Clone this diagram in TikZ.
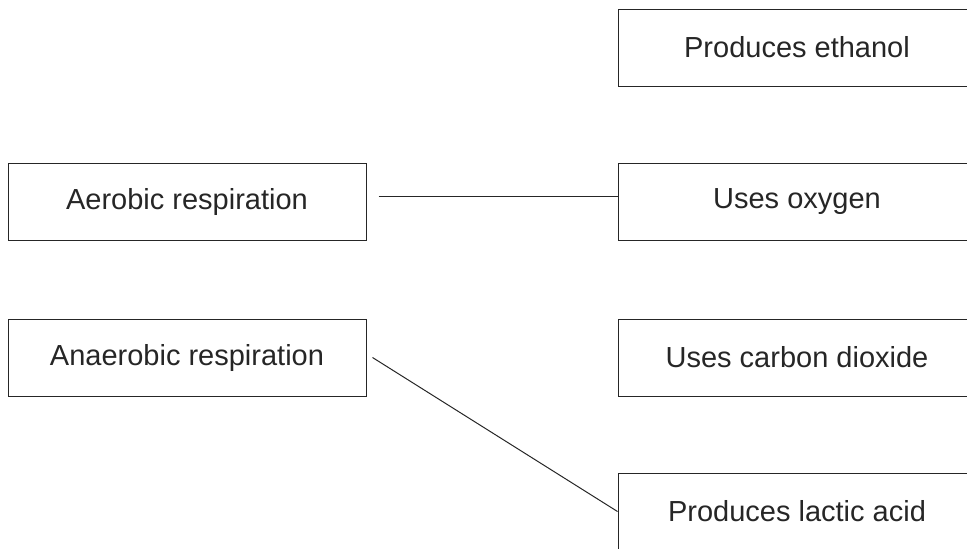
\documentclass[tikz,border=0pt]{standalone}
\usepackage{fontspec}
\setmainfont{Liberation Sans}
\usetikzlibrary{positioning}

\begin{document}
\begin{tikzpicture}[
  x=1pt, y=-1pt,
  procbox/.style={draw=black!85, line width=1pt, align=center, minimum width=358pt, minimum height=77pt, inner sep=0pt, text=black!85, font=\fontsize{29}{34}\selectfont},
  link/.style={draw=black!85, line width=1pt}
]
\clip (0,0) rectangle (967,549);
\useasboundingbox (0,0) rectangle (967,549);

\node[procbox] (aer) at (187,202) {Aerobic respiration};
\node[procbox] (ana) at (187,357.5) {Anaerobic respiration};

\node[procbox] (eth) at (797,47.5) {Produces ethanol};
\node[procbox] (oxy) at (797,202) {Uses oxygen};
\node[procbox] (co2) at (797,357.5) {Uses carbon dioxide};
\node[procbox] (lac) at (797,511.5) {Produces lactic acid};

\draw[link] ([xshift=12pt,yshift=6pt]aer.east) -- ([yshift=6pt]oxy.west);
\draw[link] ([xshift=6pt]ana.east) -- (lac.west);
\end{tikzpicture}
\end{document}
